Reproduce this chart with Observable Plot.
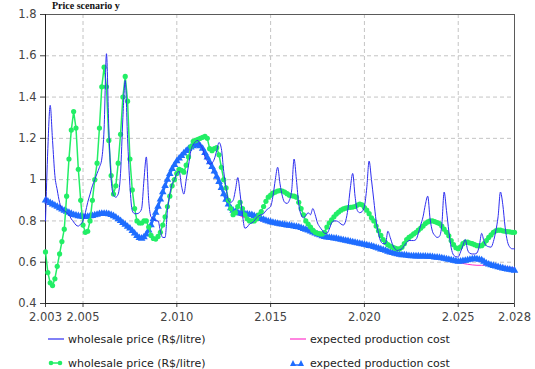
<!DOCTYPE html>
<html><head><meta charset="utf-8">
<script src="https://cdn.jsdelivr.net/npm/d3@7"></script>
<script src="https://cdn.jsdelivr.net/npm/@observablehq/plot@0.6"></script>
<style>
body{margin:0;background:#fff;font-family:"DejaVu Sans",sans-serif;}
#wrap{position:relative;width:535px;height:369px;overflow:hidden;background:#fff;}
#title{position:absolute;left:52px;top:0px;font:bold 10px "Liberation Serif",serif;line-height:11px;color:#111;white-space:nowrap;}
#chart{position:absolute;left:0;top:0;}
.item{position:absolute;display:flex;align-items:center;height:14px;font:11px "DejaVu Sans",sans-serif;color:#222;white-space:nowrap;}
.item svg{margin-right:4px;}
</style></head>
<body>
<div id="wrap">
  <div id="chart"></div>
  <div id="title">Price scenario y</div>
  <div id="legend"></div>
</div>
<script>
// ---- data ----
const startYear = 2003;
const stepFine = 0.125;   // 8 points per year
const stepCoarse = 0.25;  // 4 points per year

// wholesale price, scenario 1 (thin blue line)
const price1 = [
0.80,1.15,1.36,1.19,1.02,0.95,0.89,0.86,
0.85,0.84,0.83,0.81,0.795,0.78,0.775,0.785,
0.80,0.84,0.89,0.93,0.97,1.00,1.03,1.06,
1.10,1.25,1.61,1.25,1.00,0.925,0.915,0.93,
1.03,1.30,1.48,1.20,0.97,0.85,0.835,0.835,
0.84,0.86,1.00,1.11,0.90,0.82,0.81,0.80,
0.80,0.75,0.72,0.72,0.85,0.93,0.98,1.00,
1.03,1.04,0.97,0.93,1.00,1.07,1.14,1.17,
1.185,1.19,1.17,1.15,1.11,1.09,1.075,1.08,
1.10,1.14,1.18,1.15,1.04,0.96,0.90,0.89,
0.90,0.95,1.01,0.93,0.83,0.765,0.77,0.785,
0.79,0.80,0.815,0.825,0.83,0.835,0.85,0.86,
0.87,0.92,1.00,1.06,0.98,0.92,0.89,0.885,
0.90,0.95,1.10,1.00,0.88,0.83,0.815,0.825,
0.84,0.83,0.86,0.83,0.79,0.77,0.755,0.74,
0.74,0.76,0.79,0.80,0.80,0.795,0.785,0.78,
0.80,0.86,0.96,1.03,0.92,0.85,0.84,0.845,
0.87,0.96,1.09,1.00,0.90,0.80,0.74,0.70,
0.69,0.69,0.75,0.72,0.685,0.665,0.657,0.66,
0.665,0.68,0.695,0.705,0.705,0.705,0.71,0.74,
0.78,0.82,0.88,0.92,0.81,0.75,0.73,0.72,
0.725,0.78,0.94,0.85,0.75,0.67,0.635,0.627,
0.625,0.65,0.68,0.71,0.66,0.643,0.64,0.64,
0.645,0.68,0.74,0.70,0.68,0.675,0.673,0.70,
0.75,0.82,0.94,0.88,0.77,0.70,0.673,0.665,
0.665];

// wholesale price, scenario 2 (green with dots)
const price2 = [
0.65,0.55,0.50,0.487,0.52,0.58,0.64,0.70,
0.76,0.92,1.10,1.24,1.33,1.25,1.05,0.90,
0.78,0.745,0.75,0.80,0.90,1.00,1.08,1.25,
1.45,1.545,1.45,1.19,1.02,0.93,0.97,1.08,
1.22,1.40,1.50,1.38,1.10,0.95,0.86,0.80,
0.79,0.79,0.80,0.80,0.77,0.73,0.715,0.712,
0.725,0.745,0.78,0.82,0.87,0.92,0.97,1.00,
1.03,1.05,1.045,1.036,1.07,1.11,1.16,1.185,
1.19,1.195,1.20,1.205,1.21,1.20,1.15,1.14,
1.15,1.155,1.12,1.06,1.00,0.96,0.90,0.86,
0.83,0.84,0.87,0.89,0.86,0.83,0.81,0.80,
0.80,0.80,0.81,0.83,0.845,0.87,0.895,0.915,
0.925,0.935,0.94,0.945,0.947,0.945,0.94,0.932,
0.925,0.922,0.92,0.915,0.89,0.86,0.83,0.80,
0.785,0.77,0.755,0.745,0.74,0.737,0.737,0.745,
0.77,0.79,0.805,0.82,0.833,0.843,0.852,0.858,
0.862,0.865,0.866,0.867,0.870,0.877,0.882,0.878,
0.865,0.852,0.835,0.815,0.80,0.775,0.752,0.73,
0.71,0.695,0.685,0.678,0.673,0.668,0.665,0.665,
0.672,0.69,0.71,0.72,0.728,0.737,0.745,0.755,
0.765,0.775,0.787,0.795,0.80,0.80,0.797,0.792,
0.787,0.775,0.76,0.745,0.728,0.705,0.685,0.67,
0.665,0.675,0.69,0.697,0.697,0.693,0.69,0.685,
0.68,0.679,0.68,0.69,0.705,0.72,0.732,0.745,
0.752,0.755,0.755,0.752,0.75,0.748,0.747,0.745,
0.745];

// expected production cost, scenario 1 (magenta line), 4 per year
const cost1 = [
0.900,0.888,0.875,0.862,
0.848,0.836,0.825,0.818,
0.815,0.818,0.823,0.830,
0.835,0.835,0.829,0.817,
0.800,0.782,0.764,0.740,
0.718,0.722,0.755,0.810,
0.870,0.940,1.000,1.052,
1.090,1.115,1.140,1.157,
1.167,1.163,1.130,1.085,
1.040,0.990,0.930,0.878,
0.845,0.830,0.820,0.812,
0.808,0.805,0.800,0.798,
0.793,0.790,0.785,0.781,
0.778,0.774,0.770,0.762,
0.755,0.745,0.735,0.727,
0.720,0.718,0.715,0.710,
0.705,0.700,0.695,0.690,
0.685,0.680,0.675,0.667,
0.660,0.652,0.645,0.640,
0.635,0.633,0.630,0.629,
0.628,0.628,0.627,0.624,
0.622,0.618,0.613,0.607,
0.600,0.594,0.590,0.587,
0.585,0.585,0.586,0.585,
0.582,0.579,0.577,0.575,
0.573];

// expected production cost, scenario 2 (blue triangles)
const cost2 = [
0.900,0.895,0.888,0.881,0.875,0.869,0.862,0.856,
0.850,0.845,0.840,0.835,0.830,0.827,0.824,0.822,
0.820,0.820,0.821,0.823,0.825,0.828,0.831,0.834,
0.836,0.836,0.835,0.833,0.829,0.824,0.817,0.809,
0.800,0.791,0.782,0.773,0.764,0.752,0.740,0.728,
0.718,0.715,0.722,0.735,0.755,0.780,0.810,0.840,
0.870,0.905,0.940,0.970,1.000,1.028,1.052,1.072,
1.090,1.103,1.115,1.128,1.140,1.149,1.157,1.163,
1.167,1.168,1.163,1.150,1.130,1.108,1.085,1.062,
1.040,1.015,0.990,0.960,0.930,0.903,0.880,0.862,
0.850,0.844,0.840,0.837,0.835,0.834,0.833,0.831,
0.830,0.825,0.820,0.815,0.810,0.806,0.802,0.798,
0.795,0.792,0.790,0.787,0.785,0.783,0.781,0.779,
0.778,0.776,0.774,0.772,0.770,0.766,0.762,0.758,
0.755,0.750,0.745,0.740,0.735,0.731,0.727,0.723,
0.720,0.719,0.718,0.716,0.715,0.712,0.710,0.707,
0.705,0.703,0.700,0.698,0.695,0.693,0.690,0.688,
0.685,0.683,0.680,0.678,0.675,0.671,0.667,0.663,
0.660,0.656,0.652,0.648,0.645,0.642,0.640,0.637,
0.635,0.634,0.633,0.631,0.630,0.630,0.629,0.629,
0.628,0.628,0.628,0.627,0.627,0.626,0.624,0.623,
0.622,0.620,0.618,0.615,0.613,0.610,0.608,0.605,
0.603,0.604,0.606,0.608,0.610,0.613,0.615,0.616,
0.615,0.613,0.610,0.603,0.595,0.590,0.586,0.583,
0.580,0.577,0.574,0.571,0.568,0.566,0.564,0.562,
0.560];

const xTicks = [2003, 2005, 2010, 2015, 2020, 2025, 2028];
const xTickLabels = ["2.003", "2.005", "2.010", "2.015", "2.020", "2.025", "2.028"];
const xGrid = [2005, 2010, 2015, 2020, 2025];
const yTicks = [0.4, 0.6, 0.8, 1.0, 1.2, 1.4, 1.6, 1.8];
const yTickLabels = ["0.4", "0.6", "0.8", "1", "1.2", "1.4", "1.6", "1.8"];
const yGrid = [0.6, 0.8, 1.0, 1.2, 1.4, 1.6];
const legendLabels = ["wholesale price (R$/litre)", "expected production cost", "wholesale price (R$/litre)", "expected production cost"];

const colors = {price1: "#2d2df0", cost1: "#ff33cc", price2: "#22ee66", cost2: "#1f6dff"};

// ---- build tables ----
const toRows = (vals, step) => vals.map((v, i) => ({year: startYear + i * step, value: v}));
const p1 = toRows(price1, stepFine);
const p2 = toRows(price2, stepFine);
const c1 = toRows(cost1, stepCoarse);
const c2 = toRows(cost2, stepFine);

const chart = Plot.plot({
  width: 535, height: 330,
  marginTop: 14, marginRight: 21, marginBottom: 27, marginLeft: 45,
  style: {fontFamily: '"DejaVu Sans", sans-serif', fontSize: "11.5px", color: "#444", background: "white", overflow: "visible"},
  x: {domain: [2003, 2028], ticks: xTicks, tickFormat: d => xTickLabels[xTicks.indexOf(d)], tickSize: 4, tickPadding: 5, label: null},
  y: {domain: [0.4, 1.8], ticks: yTicks, tickFormat: d => yTickLabels[yTicks.indexOf(d)], tickSize: 5, tickPadding: 4, label: null},
  marks: [
    Plot.ruleX(xGrid, {stroke: "#c4c4c4", strokeWidth: 1, strokeDasharray: "4,3"}),
    Plot.ruleY(yGrid, {stroke: "#c4c4c4", strokeWidth: 1, strokeDasharray: "4,3"}),
    Plot.frame({stroke: "#5a5a5a"}),
    Plot.ruleX([2003], {stroke: "#222"}),
    Plot.ruleY([0.4], {stroke: "#222"}),
    Plot.line(c1, {x: "year", y: "value", stroke: colors.cost1, strokeWidth: 1}),
    Plot.line(c2, {x: "year", y: "value", stroke: colors.cost2, strokeWidth: 2.5}),
    Plot.dot(c2, {x: "year", y: "value", symbol: "triangle", r: 2.8, fill: colors.cost2, stroke: null}),
    Plot.line(p2, {x: "year", y: "value", stroke: colors.price2, strokeWidth: 1.5}),
    Plot.dot(p2, {x: "year", y: "value", r: 2.6, fill: colors.price2, stroke: null}),
    Plot.line(p1, {x: "year", y: "value", stroke: colors.price1, strokeWidth: 1, curve: "monotone-x"})
  ]
});
document.getElementById("chart").appendChild(chart);

// ---- legend ----
const legend = document.getElementById("legend");
const swatches = [
  `<svg width="16" height="10"><line x1="0" y1="5" x2="16" y2="5" stroke="${colors.price1}" stroke-width="1.2"/></svg>`,
  `<svg width="16" height="10"><line x1="0" y1="5" x2="16" y2="5" stroke="${colors.cost1}" stroke-width="1.2"/></svg>`,
  `<svg width="16" height="10"><line x1="2" y1="5" x2="13" y2="5" stroke="${colors.price2}" stroke-width="1.5"/><circle cx="3" cy="5" r="2.3" fill="${colors.price2}"/><circle cx="12" cy="5" r="2.3" fill="${colors.price2}"/></svg>`,
  `<svg width="16" height="10"><path d="M0,8 L3,2 L6,8 Z M8,8 L11,2 L14,8 Z" fill="${colors.cost2}"/><line x1="1" y1="7" x2="13" y2="7" stroke="${colors.cost2}" stroke-width="1.5"/></svg>`
];
const pos = [[48, 332], [290, 332], [48, 356], [290, 356]];
legendLabels.forEach((lab, i) => {
  const d = document.createElement("div");
  d.className = "item";
  d.style.left = pos[i][0] + "px";
  d.style.top = pos[i][1] + "px";
  d.innerHTML = swatches[i];
  const s = document.createElement("span");
  s.textContent = lab;
  d.appendChild(s);
  legend.appendChild(d);
});
</script>
</body></html>
